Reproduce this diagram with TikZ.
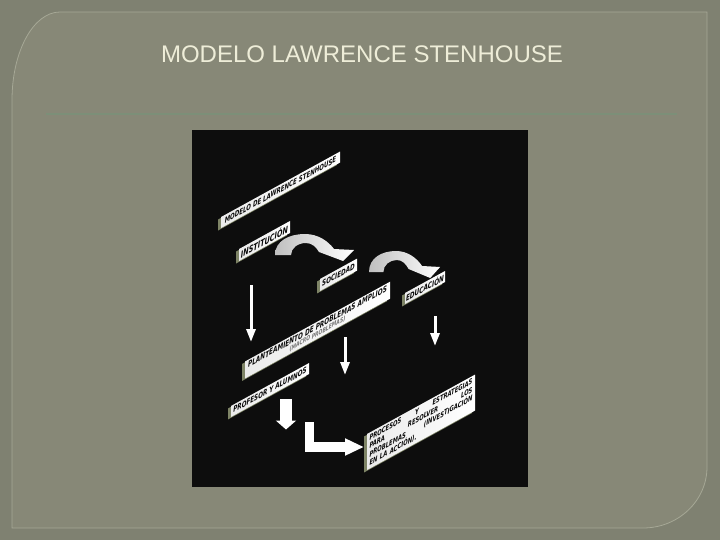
\documentclass[tikz,border=0pt]{standalone}
\usepackage{fontspec}
\usetikzlibrary{positioning, arrows.meta, shadows}
\newfontfamily\titlefont{Liberation Sans}
\newfontfamily\lblfont[FakeStretch=0.72]{DejaVu Sans}
\definecolor{slidebg}{HTML}{7F8171}
\definecolor{panelbg}{HTML}{878877}
\definecolor{panelrim}{HTML}{A6A896}
\definecolor{titlec}{HTML}{EEEDD8}
\definecolor{rulec}{HTML}{7C8F78}
\definecolor{imgbg}{HTML}{0D0D0D}
\definecolor{edgec}{HTML}{7E8466}
\definecolor{inkc}{HTML}{080808}
\tikzset{
    tag/.style={
        yslant=0.55, transform shape,
        left color=black!8, right color=white,
        drop shadow={shadow xshift=-3pt, shadow yshift=-2.5pt, fill=edgec, opacity=1},
        inner sep=0pt, align=center, text=inkc,
        font=\lblfont\bfseries\itshape\fontsize{#1}{8.3}\selectfont
    },
    tag/.default=7.8,
    line/.style = {white, line width=3pt, -{Triangle[width=9pt,length=13pt]}},
    fat/.style = {white, line width=12pt, -{Triangle[width=20pt,length=9pt]}},
    elbow/.style = {white, line width=9.5pt, line join=miter, -{Triangle[width=16pt,length=19pt]}},
    curlshade/.style = {left color=black!25, right color=white},
    curlarrow/.pic = {
        \shade[curlshade] (0,0) .. controls (0,-14) and (14,-21) .. (30,-21)
            .. controls (43,-21) and (53,-14) .. (59,-6) -- (79,-5) -- (68,6)
            -- (44,-3) .. controls (41,-8) and (37,-12) .. (31,-12)
            .. controls (23,-12) and (16,-7) .. (16,0) -- cycle;
    }
}

\begin{document}
\begin{tikzpicture}[x=1pt, y=-1pt]
    \useasboundingbox (0,0) rectangle (720,540);

    % Slide
    \fill[slidebg] (0,0) rectangle (720,540);
    \draw[panelrim, fill=panelbg, line width=0.8pt] (12,528) -- (12,100)
        arc[start angle=180, end angle=270, x radius=48, y radius=88]
        -- (707,12) -- (707,467)
        arc[start angle=0, end angle=90, x radius=64, y radius=61] -- cycle;
    \node[font=\titlefont\fontsize{24}{28}\selectfont, text=titlec] (title) at (362,54) {MODELO LAWRENCE STENHOUSE};
    \draw[rulec, line width=2.6pt] (46,114) -- (677,114);

    % Picture
    \fill[imgbg] (192,130) rectangle (528,487);

    % Blocks
    \node[tag=7.6, minimum width=119pt, minimum height=11pt] (model) at (280.5,189.8) {MODELO DE LAWRENCE STENHOUSE};
    \node[tag=9, minimum width=51pt, minimum height=12pt] (inst) at (264.5,241) {INSTITUCIÓN};
    \node[tag, minimum width=37pt, minimum height=12pt] (soc) at (338.5,274.8) {SOCIEDAD};
    \node[tag=8, minimum width=40pt, minimum height=11pt] (edu) at (425,287.5) {EDUCACIÓN};
    \node[tag=8, minimum width=145pt, minimum height=17pt] (plant) at (317.5,330.1)
        {PLANTEAMIENTO DE PROBLEMAS AMPLIOS\\[-1.8pt]{\fontsize{6.3}{7}\selectfont\color{black!55}(MACRO PROBLEMAS)}};
    \node[tag, minimum width=78pt, minimum height=11pt] (prof) at (270,390) {PROFESOR Y ALUMNOS};
    \node[tag=7.3, minimum width=108pt, minimum height=36pt, text width=103pt, align=left] (proc) at (421,422.3)
        {PROCESOS\hfill Y\hfill ESTRATEGIAS\\
         PARA\hfill RESOLVER\hfill LOS\\
         PROBLEMAS\hfill (INVESTIGACIÓN\\
         EN LA ACCIÓN).};

    % Curved arrows
    \pic at (275,255) {curlarrow};
    \pic[xscale=0.9] at (369,272) {curlarrow};

    % Lines
    \coordinate (instdown) at (251,285);
    \coordinate (plantin) at (251,342);
    \coordinate (socdown) at (345,337);
    \coordinate (plantout) at (345,375);
    \coordinate (edudown) at (435,316);
    \coordinate (eduend) at (435,346);
    \coordinate (profdown) at (286,399);
    \coordinate (profend) at (286,429.5);
    \coordinate (procfrom) at (309.5,422);
    \coordinate (procin) at (364,447);
    \draw[line] (instdown) -- (plantin);
    \draw[line] (socdown) -- (plantout);
    \draw[line] (edudown) -- (eduend);
    \draw[fat] (profdown) -- (profend);
    \draw[elbow] (procfrom) |- (procin);

\end{tikzpicture}
\end{document}
